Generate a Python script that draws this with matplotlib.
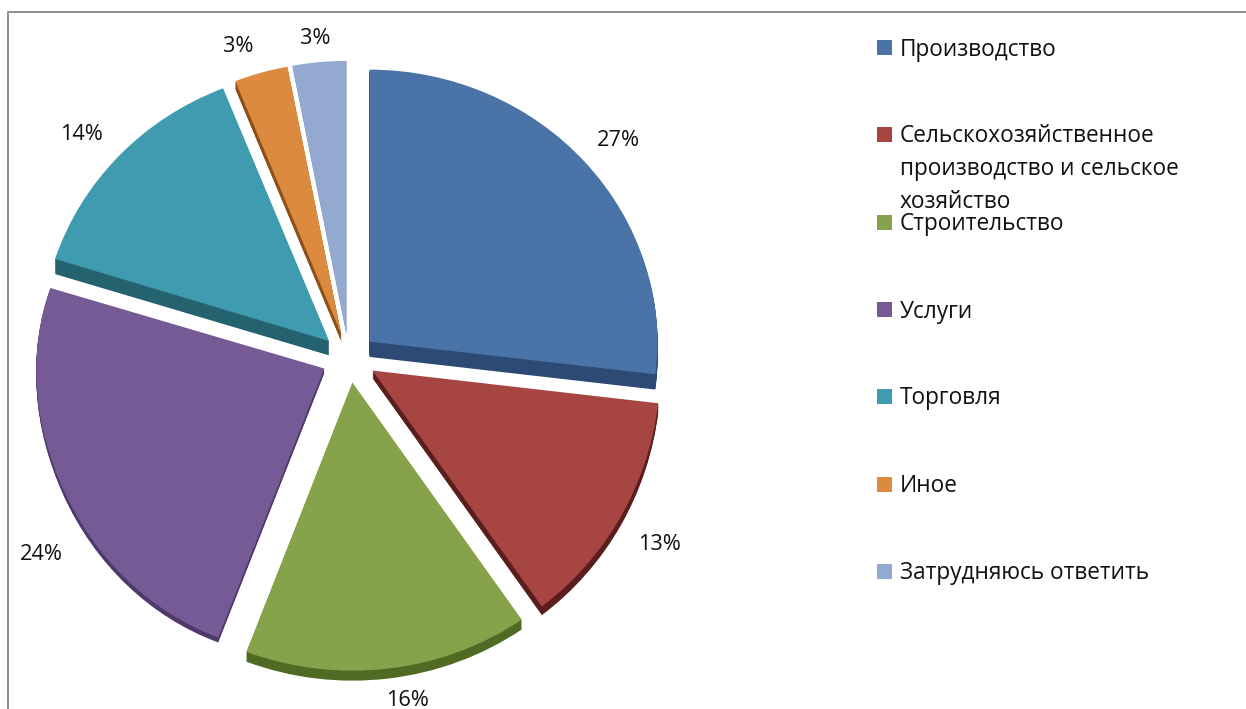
import matplotlib
matplotlib.use("Agg")
import matplotlib.pyplot as plt
import numpy as np
from matplotlib.patches import Rectangle

categories = ["Производство", "Сельскохозяйственное\nпроизводство и сельское\nхозяйство",
              "Строительство", "Услуги", "Торговля", "Иное", "Затрудняюсь ответить"]
values = [27, 13, 16, 24, 14, 3, 3]
top_colors = ["#4A74A8", "#A64542", "#86A34C", "#765A96", "#3F9BB0", "#DC8A3E", "#93A9CF"]
side_colors = ["#2C4A74", "#5A1E1C", "#4F6A22", "#4D3A6B", "#24626F", "#8C5018", "#7F92B5"]
depths = [16, 8, 10, 5, 15, 8, 1]
explode = [0.095] * 7

label_px = [(618, 140), (660, 545), (408, 700), (41, 554), (82, 135), (238, 47), (315, 38)]
legend_px = [(884.5, 47.5), (884.5, 134.5), (884.5, 222.5), (884.5, 309.5),
             (884.5, 396.5), (884.5, 484), (884.5, 571)]

W, H = 1246, 709
CX, CY, RX, RY = 349, 358, 288, 272
LINE_PX = 32.5

# vertical perspective: the lower part of the pie is drawn larger than the upper part
flat_px = np.array([-200.0, 0, 285, 405, 600, 655, 709, 900])
view_px = np.array([-200.0, 0, 288, 403, 616, 670, 724, 915])


def fwd(y):
    return -np.interp(CY - np.asarray(y) * RY, flat_px, view_px)


def inv(s):
    return (CY - np.interp(-np.asarray(s), view_px, flat_px)) / RY


plt.rcParams["font.family"] = ["Open Sans", "DejaVu Sans"]
fig = plt.figure(figsize=(W / 100, H / 100), dpi=100)

ax = fig.add_axes([0, 0, 1, 1])
for k in range(max(depths), -1, -1):
    colors = side_colors if k > 0 else top_colors
    wedges, _ = ax.pie(values, colors=colors, startangle=90, counterclock=False,
                       explode=explode, center=(0, -k / RY), radius=1,
                       wedgeprops={"linewidth": 0}, normalize=True, frame=True)
    for w, d in zip(wedges, depths):
        if k > d:
            w.set_visible(False)
ax.set_aspect("auto")
ax.set_yscale("function", functions=(fwd, inv))
ax.set_xlim(-CX / RX, (W - CX) / RX)
ax.set_ylim(float(inv(-H)), float(inv(0)))
ax.axis("off")

ov = fig.add_axes([0, 0, 1, 1], facecolor="none")
ov.set_xlim(0, W)
ov.set_ylim(H, 0)
ov.axis("off")
ov.plot([8, 8, W], [H, 12, 12], color="#8C8C8C", lw=1.4)

for v, (x, y) in zip(values, label_px):
    ov.text(x, y, f"{v}%", ha="center", va="center", fontsize=15.7, color="#111111")

for name, c, (x, y) in zip(categories, top_colors, legend_px):
    ov.add_patch(Rectangle((x - 7.5, y - 7.5), 15, 15, color=c, lw=0))
    for i, line in enumerate(name.split("\n")):
        ov.text(x + 15, y + 8 + i * LINE_PX, line, ha="left", va="baseline",
                fontsize=16.3, color="#111111")

fig.savefig("out.png", dpi=100)
